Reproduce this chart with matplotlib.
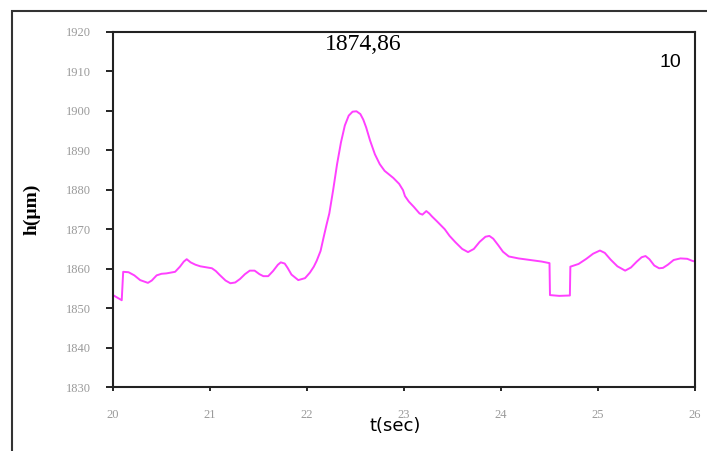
import matplotlib
matplotlib.use("Agg")
import matplotlib.pyplot as plt
from matplotlib.patches import Rectangle

# film thickness trace
t_sec = [20.00, 20.09, 20.105, 20.16, 20.22, 20.28, 20.36, 20.40, 20.45, 20.50,
         20.55, 20.64, 20.69, 20.73, 20.76, 20.80, 20.85, 20.90, 21.02, 21.06,
         21.10, 21.16, 21.21, 21.26, 21.31, 21.36, 21.41, 21.46, 21.51, 21.55,
         21.60, 21.65, 21.70, 21.73, 21.77, 21.80, 21.84, 21.91, 21.98, 22.03,
         22.07, 22.10, 22.14, 22.17, 22.20, 22.23, 22.27, 22.31, 22.35, 22.39,
         22.43, 22.47, 22.51, 22.55, 22.58, 22.61, 22.65, 22.70, 22.75, 22.80,
         22.89, 22.95, 22.99, 23.01, 23.05, 23.10, 23.16, 23.19, 23.23, 23.26,
         23.29, 23.34, 23.42, 23.47, 23.53, 23.60, 23.66, 23.72, 23.78, 23.84,
         23.88, 23.92, 23.97, 24.02, 24.08, 24.18, 24.30, 24.42, 24.50, 24.505,
         24.60, 24.71, 24.715, 24.80, 24.88, 24.95, 25.02, 25.07, 25.13, 25.20,
         25.28, 25.34, 25.40, 25.45, 25.49, 25.53, 25.58, 25.63, 25.67, 25.72,
         25.78, 25.85, 25.92, 25.97, 26.00]
h_um = [1853.3, 1852.0, 1859.2, 1859.1, 1858.3, 1857.1, 1856.4, 1857.0, 1858.3, 1858.7,
        1858.8, 1859.2, 1860.5, 1861.8, 1862.4, 1861.6, 1861.0, 1860.6, 1860.1, 1859.4,
        1858.4, 1857.0, 1856.3, 1856.5, 1857.4, 1858.6, 1859.5, 1859.5, 1858.6, 1858.1,
        1858.1, 1859.4, 1861.0, 1861.6, 1861.3, 1860.2, 1858.5, 1857.1, 1857.6, 1859.0,
        1860.5, 1862.0, 1864.5, 1867.8, 1871.0, 1874.0, 1880.0, 1886.5, 1892.0, 1896.3,
        1898.8, 1899.8, 1899.9, 1899.2, 1897.8, 1895.8, 1892.5, 1889.0, 1886.5, 1884.8,
        1883.0, 1881.5, 1879.9, 1878.4, 1877.0, 1875.7, 1874.0, 1873.7, 1874.6, 1874.0,
        1873.2, 1872.0, 1870.0, 1868.3, 1866.7, 1865.0, 1864.2, 1865.0, 1866.8, 1868.1,
        1868.3, 1867.6, 1866.0, 1864.3, 1863.1, 1862.6, 1862.2, 1861.8, 1861.4, 1853.3,
        1853.1, 1853.2, 1860.5, 1861.2, 1862.5, 1863.8, 1864.6, 1864.0, 1862.3, 1860.6,
        1859.5, 1860.3, 1861.8, 1862.9, 1863.2, 1862.4, 1860.8, 1860.1, 1860.2, 1861.0,
        1862.2, 1862.6, 1862.5, 1862.0, 1861.8]

x_ticks = [20, 21, 22, 23, 24, 25, 26]
y_ticks = [1830, 1840, 1850, 1860, 1870, 1880, 1890, 1900, 1910, 1920]

fig = plt.figure(figsize=(7.07, 4.51), dpi=100)
ax = fig.add_axes([113 / 707, 1 - 387 / 451, 582 / 707, 355 / 451])

ax.plot(t_sec, h_um, color="#ff40ff", linewidth=1.4)

ax.set_xlim(20, 26)
ax.set_ylim(1830, 1920)
ax.set_xticks(x_ticks)
ax.set_yticks(y_ticks)
ax.tick_params(axis="both", direction="out", colors="black", labelcolor="#9a9a9a",
               labelsize=9)
ax.tick_params(axis="y", length=5, width=1.2, pad=11)
ax.tick_params(axis="x", length=3, width=1.2, pad=13)
for label in ax.get_xticklabels() + ax.get_yticklabels():
    label.set_family("Liberation Serif")
for spine in ax.spines.values():
    spine.set_linewidth(1.5)
    spine.set_color("#222222")

# the x label sits over the "23" tick label, as in the source figure
ax.set_xlabel("t(sec)", fontsize=13, family="DejaVu Sans")
ax.xaxis.set_label_coords(0.485, -0.085)
ax.set_ylabel("h(µm)", fontsize=14, family="Liberation Serif", fontweight="bold")
ax.yaxis.set_label_coords(-0.125, 0.5)

ax.text(0.43, 0.995, "1874,86", transform=ax.transAxes, ha="center", va="top",
        fontsize=17, family="Liberation Serif")
ax.text(0.977, 0.915, "10", transform=ax.transAxes, ha="right", va="center",
        fontsize=14, family="Liberation Sans")

# outer frame around the chart area
fig.patches.append(Rectangle((12 / 707, -0.1), 1.0, 1 - 11 / 451 + 0.1,
                             transform=fig.transFigure, fill=False,
                             edgecolor="#333333", linewidth=1.5))

fig.savefig("out.png", dpi=100)
